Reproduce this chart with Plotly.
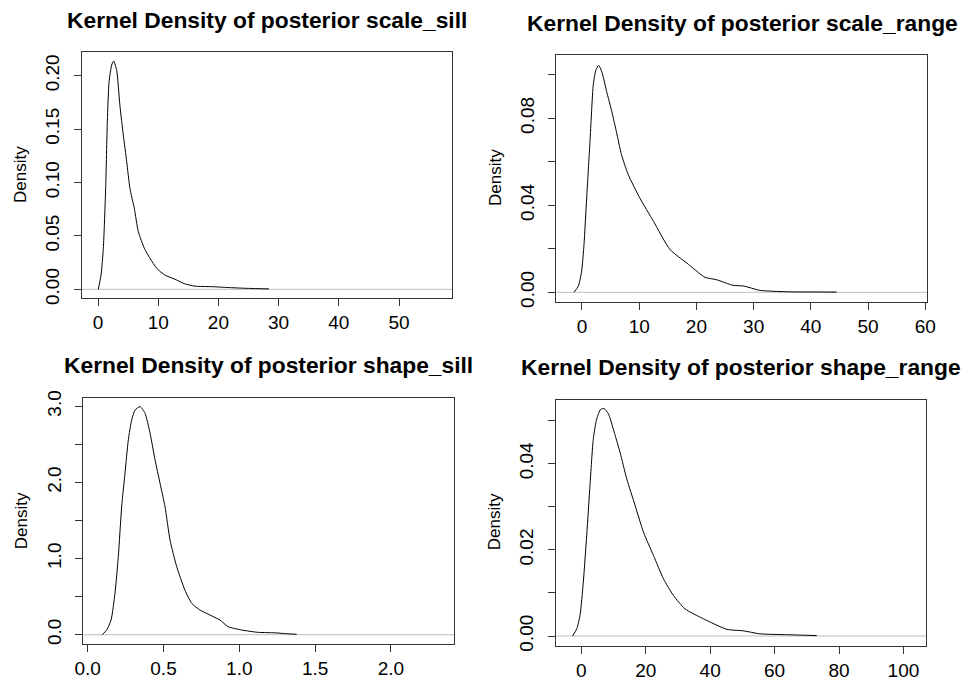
import plotly.graph_objects as go

# ---- data ----
titles = [
    "Kernel Density of posterior scale_sill",
    "Kernel Density of posterior scale_range",
    "Kernel Density of posterior shape_sill",
    "Kernel Density of posterior shape_range",
]

scale_sill_x = [0.05, 0.5, 0.88, 1.27, 1.55, 1.83, 2.27, 2.6, 3.1, 3.64, 4.2, 4.77, 5.3, 6.03, 6.7,
                7.7, 8.65, 9.75, 11.1, 12.8, 14.4, 16.1, 18.9, 21.6, 24.4, 27.1, 28.4]
scale_sill_y = [0.0, 0.0134, 0.038, 0.0945, 0.157, 0.194, 0.210, 0.2137, 0.205, 0.172, 0.1445, 0.1195,
                0.0945, 0.0758, 0.054, 0.0384, 0.029, 0.0197, 0.0134, 0.0094, 0.0052, 0.003, 0.0025,
                0.0017, 0.001, 0.0006, 0.0004]

scale_range_x = [-1.4, -0.64, -0.06, 0.35, 0.82, 1.4, 1.98, 2.45, 2.91, 3.44, 4.3, 5.2, 6.0, 6.9, 8.1,
                 10.1, 12.5, 15.4, 18.3, 21.5, 23.5, 26.4, 28.2, 31.1, 34.0, 36.9, 40.0, 44.5]
scale_range_y = [0.0, 0.0028, 0.0097, 0.0219, 0.0434, 0.0694, 0.0955, 0.1024, 0.1043, 0.1016, 0.0924,
                 0.0832, 0.074, 0.0633, 0.054, 0.0434, 0.0326, 0.0196, 0.0135, 0.0069, 0.0058, 0.0032,
                 0.0029, 0.0009, 0.0004, 0.0002, 0.00015, 0.0001]

shape_sill_x = [0.096, 0.125, 0.154, 0.18, 0.202, 0.224, 0.246, 0.268, 0.29, 0.312, 0.345, 0.378, 0.411,
                0.444, 0.477, 0.51, 0.543, 0.587, 0.641, 0.686, 0.74, 0.806, 0.872, 0.927, 1.015, 1.125,
                1.235, 1.30, 1.378]
shape_sill_y = [0.0, 0.062, 0.193, 0.544, 1.025, 1.68, 2.12, 2.56, 2.82, 2.95, 2.996, 2.91, 2.65, 2.30,
                1.99, 1.68, 1.244, 0.894, 0.587, 0.412, 0.325, 0.259, 0.193, 0.105, 0.062, 0.031, 0.025,
                0.015, 0.005]

shape_range_x = [-2.7, -1.4, -0.4, 0.62, 1.68, 2.7, 3.73, 4.78, 6.0, 7.05, 8.4, 9.9, 12.0, 14.1, 16.7,
                 19.3, 22.4, 25.5, 28.6, 32.2, 37.9, 45.2, 50.3, 55.5, 63.8, 73.1]
shape_range_y = [0.0, 0.0017, 0.0048, 0.0125, 0.0234, 0.035, 0.0458, 0.0504, 0.0526, 0.0528, 0.0516,
                 0.0481, 0.0427, 0.0365, 0.0303, 0.0241, 0.0187, 0.0133, 0.0094, 0.0063, 0.004, 0.00155,
                 0.0012, 0.0005, 0.0003, 0.0001]

xs = [scale_sill_x, scale_range_x, shape_sill_x, shape_range_x]
ys = [scale_sill_y, scale_range_y, shape_sill_y, shape_range_y]

x_ticks = [[0, 10, 20, 30, 40, 50], [0, 10, 20, 30, 40, 50, 60],
           [0.0, 0.5, 1.0, 1.5, 2.0], [0, 20, 40, 60, 80, 100]]
x_ticktext = [["0", "10", "20", "30", "40", "50"], ["0", "10", "20", "30", "40", "50", "60"],
              ["0.0", "0.5", "1.0", "1.5", "2.0"], ["0", "20", "40", "60", "80", "100"]]
y_ticks = [[0.0, 0.05, 0.10, 0.15, 0.20], [0.0, 0.02, 0.04, 0.06, 0.08, 0.10],
           [0.0, 0.5, 1.0, 1.5, 2.0, 2.5, 3.0], [0.0, 0.01, 0.02, 0.03, 0.04, 0.05]]
y_ticktext = [["0.00", "0.05", "0.10", "0.15", "0.20"], ["0.00", "", "0.04", "", "0.08", ""],
              ["0.0", "", "1.0", "", "2.0", "", "3.0"], ["0.00", "", "0.02", "", "0.04", ""]]

x_ranges = [[-2.66, 58.8], [-4.49, 60.3], [-0.029, 2.416], [-7.95, 107.1]]
y_ranges = [[-0.0081, 0.2222], [-0.0046, 0.1091], [-0.122, 3.113], [-0.00225, 0.05478]]

# ---- layout (pixel boxes of the four panels) ----
W, H = 967, 683
boxes = [(82, 452, 52, 298), (556.3, 927, 55, 302.3), (83.3, 454, 397.7, 644), (555.7, 926.3, 400, 645.7)]
title_pos = [(266.7, 20), (742, 23), (268.7, 365), (740.8, 367.3)]
dens_pos = [(20, 175), (495, 178), (21.3, 521), (494.2, 522)]

FONT = "Liberation Sans, Arial, sans-serif"
fig = go.Figure()
layout = dict(template="none", width=W, height=H, margin=dict(l=0, r=0, t=0, b=0, pad=0),
              paper_bgcolor="white", plot_bgcolor="white", showlegend=False,
              font=dict(family=FONT, color="black"))
annotations = []
shapes = []
for i in range(4):
    n = "" if i == 0 else str(i + 1)
    x0, x1, y0, y1 = boxes[i]
    fig.add_trace(go.Scatter(x=xs[i], y=ys[i], mode="lines",
                             line=dict(color="black", width=1, shape="spline", smoothing=0.6),
                             xaxis="x" + n, yaxis="y" + n, hoverinfo="skip"))
    common = dict(showgrid=False, zeroline=False, showline=True, linecolor="#333333", linewidth=1,
                  mirror=True, ticks="outside", ticklen=7, tickcolor="#333333", tickwidth=1,
                  automargin=False, tickfont=dict(size=19, family=FONT, color="black"))
    layout["xaxis" + n] = dict(domain=[x0 / W, x1 / W], range=x_ranges[i], anchor="y" + n,
                               tickmode="array", tickvals=x_ticks[i], ticktext=x_ticktext[i],
                               ticklabelstandoff=0, **common)
    layout["yaxis" + n] = dict(domain=[1 - y1 / H, 1 - y0 / H], range=y_ranges[i], anchor="x" + n,
                               tickmode="array", tickvals=y_ticks[i], ticktext=y_ticktext[i],
                               tickangle=-90, ticklabelstandoff=7, **common)
    shapes.append(dict(type="line", xref="x" + n + " domain", yref="y" + n, x0=0, x1=1, y0=0, y1=0,
                       line=dict(color="#BEBEBE", width=1), layer="below"))
    tx, ty = title_pos[i]
    annotations.append(dict(text="<b>" + titles[i] + "</b>", x=tx / W, y=1 - ty / H, xref="paper",
                            yref="paper", showarrow=False, xanchor="center", yanchor="middle",
                            font=dict(size=22.8, family=FONT, color="black")))
    dx, dy = dens_pos[i]
    annotations.append(dict(text="Density", x=dx / W, y=1 - dy / H, xref="paper", yref="paper",
                            showarrow=False, textangle=-90, xanchor="center", yanchor="middle",
                            font=dict(size=17, family=FONT, color="black")))
layout["annotations"] = annotations
layout["shapes"] = shapes
fig.update_layout(**layout)
fig.write_html("out.html", config={"displayModeBar": False},
               post_script="document.body.style.margin='0px';document.body.style.overflow='hidden';")
